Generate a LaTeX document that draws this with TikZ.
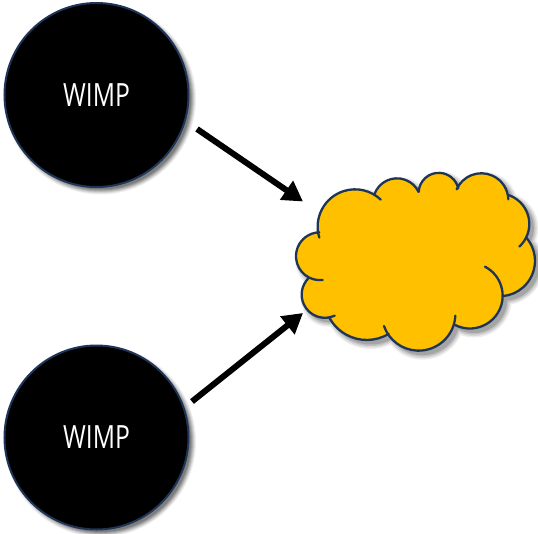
\documentclass[tikz,border=0pt]{standalone}
\usepackage{fontspec}
\setmainfont[FakeStretch=0.77]{Open Sans}
\usetikzlibrary{arrows.meta}
\definecolor{edgeblue}{HTML}{1F3557}
\definecolor{cloudgold}{HTML}{FFC000}
\tikzset{
  wimp/.style={circle,draw=edgeblue,line width=2pt,fill=black,text=white,minimum size=184pt,inner sep=0pt,font=\fontsize{32}{36}\selectfont},
  flow/.style={line width=6pt,black,-{Triangle[length=20pt,width=22pt]}},
  lobe/.style={draw=edgeblue,line width=2.3pt,line cap=round},
}
% cloud silhouette: the lobe circles and core circles
\newcommand{\cloudshape}{
  (225,200) circle (112) (351,127) circle (72) (476.2,98.8) circle (60.3)
  (604.1,120.8) circle (81) (656.3,192.1) circle (91.7) (658.9,302.7) circle (106.1)
  (569.7,407.3) circle (98.3) (416,461.8) circle (110.2) (260.4,412.3) circle (127.7)
  (134.6,403.9) circle (69.6) (119.8,288.7) circle (71.8)
  (420,280) circle (170) (300,300) circle (130) (550,280) circle (130) (510,160) circle (65) (420,170) circle (70)}
\newcommand{\lobearc}[5]{\draw[lobe] (#1,#2) ++(#4:#3) arc[start angle=#4,end angle=#5,radius=#3];}
\begin{document}
\begin{tikzpicture}[x=1pt,y=-1pt]
\useasboundingbox (0,0) rectangle (538,533);
% soft shadows of the discs
\foreach \r/\o in {95.5/0.06,94.5/0.08,93.5/0.10,92.5/0.12,91.5/0.14,90.5/0.16}{
  \fill[black,opacity=\o] (100.5,99) circle (\r);
  \fill[black,opacity=\o] (100.5,441.5) circle (\r);
}
\node[wimp] (wimpa) at (96.5,95) {WIMP};
\node[wimp] (wimpb) at (96.5,437.5) {WIMP};
\coordinate (starta) at (197,129);
\coordinate (enda) at (303,201.5);
\coordinate (startb) at (192,401.5);
\coordinate (endb) at (303,313);
\draw[flow] (starta) -- (enda);
\draw[flow] (startb) -- (endb);
\begin{scope}[shift={(280,160)},x=0.3333pt,y=-0.3333pt]
  % soft shadow of the cloud
  \foreach \w/\o in {10/0.07,7/0.09,4/0.11,1/0.14}{
    \begin{scope}[shift={(12,12)},transparency group,opacity=\o]
      \path[fill=black,draw=black,line width=\w pt] \cloudshape;
    \end{scope}
  }
  \fill[cloudgold] \cloudshape;
  \lobearc{225}{200}{112}{163}{313.6}
  \lobearc{351}{127}{72}{199.4}{334.5}
  \lobearc{476.2}{98.8}{60.3}{183.6}{346.8}
  \lobearc{604.1}{120.8}{81}{203.9}{358}
  \lobearc{656.3}{192.1}{91.7}{-71.8}{47.7}
  \lobearc{658.9}{302.7}{106.1}{-41.8}{84}
  \lobearc{569.7}{407.3}{98.3}{-62.6}{117}
  \lobearc{416}{461.8}{110.2}{2.7}{160.8}
  \lobearc{260.4}{412.3}{127.7}{59.1}{151.6}
  \lobearc{134.6}{403.9}{69.6}{65}{224.6}
  \lobearc{119.8}{288.7}{71.8}{83.4}{268.6}
\end{scope}
\end{tikzpicture}
\end{document}
